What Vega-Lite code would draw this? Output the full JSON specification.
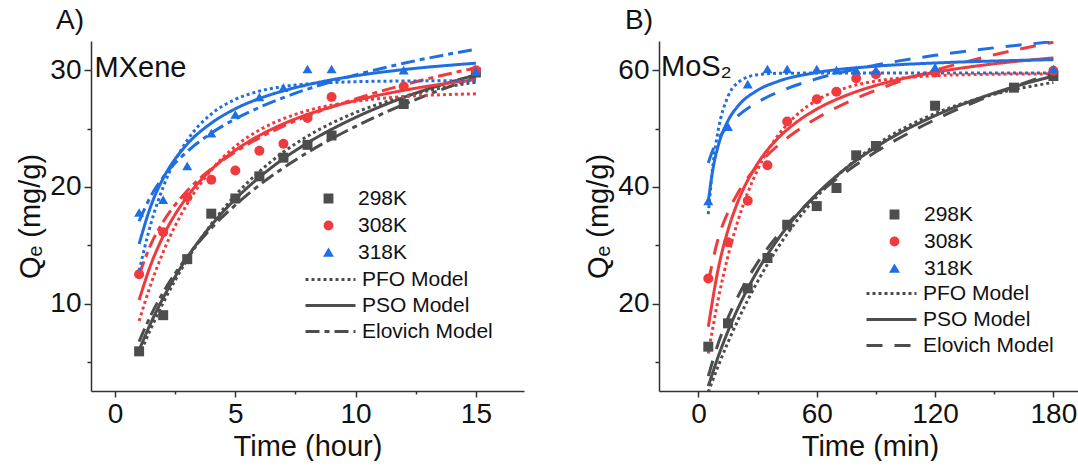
{
  "$schema": "https://vega.github.io/schema/vega-lite/v6.json",
  "background": "white",
  "padding": {"left": 16, "top": 7, "right": 0, "bottom": 0},
  "config": {
    "font": "Liberation Sans",
    "view": {"stroke": null},
    "axis": {
      "labelFontSize": 28, "titleFontSize": 29, "titleFontWeight": "normal",
      "labelColor": "#111", "titleColor": "#111",
      "domainColor": "#333", "tickColor": "#333", "domainWidth": 1.5, "tickWidth": 1.5,
      "grid": false, "labelPadding": 3, "titlePadding": 4, "labelOverlap": false
    },
    "legend": {"labelFontSize": 21, "labelColor": "#111", "labelFont": "Liberation Sans"},
    "title": {"fontSize": 28, "fontWeight": "normal", "anchor": "start", "frame": "group", "color": "#111"}
  },
  "datasets": {
    "mxPts": [
      {"T": "298K", "t": 1, "q": 5.9}, {"T": "298K", "t": 2, "q": 9.0}, {"T": "298K", "t": 3, "q": 13.8},
      {"T": "298K", "t": 4, "q": 17.7}, {"T": "298K", "t": 5, "q": 19.0}, {"T": "298K", "t": 6, "q": 20.9},
      {"T": "298K", "t": 7, "q": 22.5}, {"T": "298K", "t": 8, "q": 23.6}, {"T": "298K", "t": 9, "q": 24.4},
      {"T": "298K", "t": 12, "q": 27.1}, {"T": "298K", "t": 15, "q": 29.8},
      {"T": "308K", "t": 1, "q": 12.5}, {"T": "308K", "t": 2, "q": 16.1}, {"T": "308K", "t": 3, "q": 19.1},
      {"T": "308K", "t": 4, "q": 20.6}, {"T": "308K", "t": 5, "q": 21.4}, {"T": "308K", "t": 6, "q": 23.1},
      {"T": "308K", "t": 7, "q": 23.7}, {"T": "308K", "t": 8, "q": 25.9}, {"T": "308K", "t": 9, "q": 27.7},
      {"T": "308K", "t": 12, "q": 28.6}, {"T": "308K", "t": 15, "q": 30.0},
      {"T": "318K", "t": 1, "q": 17.8}, {"T": "318K", "t": 2, "q": 18.9}, {"T": "318K", "t": 3, "q": 21.8},
      {"T": "318K", "t": 4, "q": 24.6}, {"T": "318K", "t": 5, "q": 26.2}, {"T": "318K", "t": 6, "q": 27.7},
      {"T": "318K", "t": 7, "q": 28.5}, {"T": "318K", "t": 8, "q": 30.1}, {"T": "318K", "t": 9, "q": 30.1},
      {"T": "318K", "t": 12, "q": 30.0}, {"T": "318K", "t": 15, "q": 29.9}
    ],
    "mxFit": [
      {"T": "298K", "t": 1, "PFO Model": 5.53, "PSO Model": 6.0, "Elovich Model": 6.74},
      {"T": "298K", "t": 1.5, "PFO Model": 7.9, "PSO Model": 8.39, "Elovich Model": 9.04},
      {"T": "298K", "t": 2, "PFO Model": 10.06, "PSO Model": 10.47, "Elovich Model": 10.95},
      {"T": "298K", "t": 3, "PFO Model": 13.76, "PSO Model": 13.94, "Elovich Model": 14.02},
      {"T": "298K", "t": 4, "PFO Model": 16.8, "PSO Model": 16.7, "Elovich Model": 16.45},
      {"T": "298K", "t": 5, "PFO Model": 19.28, "PSO Model": 18.95, "Elovich Model": 18.44},
      {"T": "298K", "t": 6, "PFO Model": 21.31, "PSO Model": 20.82, "Elovich Model": 20.15},
      {"T": "298K", "t": 7, "PFO Model": 22.98, "PSO Model": 22.41, "Elovich Model": 21.63},
      {"T": "298K", "t": 8, "PFO Model": 24.34, "PSO Model": 23.76, "Elovich Model": 22.94},
      {"T": "298K", "t": 10, "PFO Model": 26.37, "PSO Model": 25.95, "Elovich Model": 25.18},
      {"T": "298K", "t": 12, "PFO Model": 27.73, "PSO Model": 27.66, "Elovich Model": 27.06},
      {"T": "298K", "t": 15, "PFO Model": 28.98, "PSO Model": 29.6, "Elovich Model": 29.39},
      {"T": "308K", "t": 1, "PFO Model": 8.5, "PSO Model": 10.3, "Elovich Model": 12.46},
      {"T": "308K", "t": 1.5, "PFO Model": 11.72, "PSO Model": 13.4, "Elovich Model": 15.12},
      {"T": "308K", "t": 2, "PFO Model": 14.41, "PSO Model": 15.77, "Elovich Model": 17.0},
      {"T": "308K", "t": 3, "PFO Model": 18.54, "PSO Model": 19.16, "Elovich Model": 19.66},
      {"T": "308K", "t": 4, "PFO Model": 21.44, "PSO Model": 21.47, "Elovich Model": 21.54},
      {"T": "308K", "t": 5, "PFO Model": 23.47, "PSO Model": 23.14, "Elovich Model": 23.0},
      {"T": "308K", "t": 6, "PFO Model": 24.87, "PSO Model": 24.4, "Elovich Model": 24.2},
      {"T": "308K", "t": 7, "PFO Model": 25.84, "PSO Model": 25.4, "Elovich Model": 25.21},
      {"T": "308K", "t": 8, "PFO Model": 26.53, "PSO Model": 26.2, "Elovich Model": 26.08},
      {"T": "308K", "t": 10, "PFO Model": 27.33, "PSO Model": 27.4, "Elovich Model": 27.54},
      {"T": "308K", "t": 12, "PFO Model": 27.73, "PSO Model": 28.27, "Elovich Model": 28.74},
      {"T": "308K", "t": 15, "PFO Model": 27.97, "PSO Model": 29.2, "Elovich Model": 30.2},
      {"T": "318K", "t": 1, "PFO Model": 12.81, "PSO Model": 15.1, "Elovich Model": 17.05},
      {"T": "318K", "t": 1.5, "PFO Model": 16.91, "PSO Model": 18.43, "Elovich Model": 19.26},
      {"T": "318K", "t": 2, "PFO Model": 19.98, "PSO Model": 20.72, "Elovich Model": 20.83},
      {"T": "318K", "t": 3, "PFO Model": 23.99, "PSO Model": 23.66, "Elovich Model": 23.03},
      {"T": "318K", "t": 4, "PFO Model": 26.24, "PSO Model": 25.46, "Elovich Model": 24.6},
      {"T": "318K", "t": 5, "PFO Model": 27.5, "PSO Model": 26.69, "Elovich Model": 25.82},
      {"T": "318K", "t": 6, "PFO Model": 28.2, "PSO Model": 27.57, "Elovich Model": 26.81},
      {"T": "318K", "t": 7, "PFO Model": 28.6, "PSO Model": 28.23, "Elovich Model": 27.65},
      {"T": "318K", "t": 8, "PFO Model": 28.82, "PSO Model": 28.75, "Elovich Model": 28.38},
      {"T": "318K", "t": 10, "PFO Model": 29.01, "PSO Model": 29.52, "Elovich Model": 29.59},
      {"T": "318K", "t": 12, "PFO Model": 29.07, "PSO Model": 30.05, "Elovich Model": 30.59},
      {"T": "318K", "t": 15, "PFO Model": 29.1, "PSO Model": 30.6, "Elovich Model": 31.8}
    ],
    "moPts": [
      {"T": "298K", "t": 5, "q": 12.6}, {"T": "298K", "t": 15, "q": 16.6}, {"T": "298K", "t": 25, "q": 22.6},
      {"T": "298K", "t": 35, "q": 27.8}, {"T": "298K", "t": 45, "q": 33.5}, {"T": "298K", "t": 60, "q": 36.7},
      {"T": "298K", "t": 70, "q": 39.8}, {"T": "298K", "t": 80, "q": 45.4}, {"T": "298K", "t": 90, "q": 47.0},
      {"T": "298K", "t": 120, "q": 53.9}, {"T": "298K", "t": 160, "q": 57.0}, {"T": "298K", "t": 180, "q": 59.0},
      {"T": "308K", "t": 5, "q": 24.3}, {"T": "308K", "t": 15, "q": 30.5}, {"T": "308K", "t": 25, "q": 37.6},
      {"T": "308K", "t": 35, "q": 43.7}, {"T": "308K", "t": 45, "q": 51.2}, {"T": "308K", "t": 60, "q": 55.0},
      {"T": "308K", "t": 70, "q": 56.3}, {"T": "308K", "t": 80, "q": 58.6}, {"T": "308K", "t": 90, "q": 59.3},
      {"T": "308K", "t": 120, "q": 59.6}, {"T": "308K", "t": 180, "q": 59.9},
      {"T": "318K", "t": 5, "q": 37.6}, {"T": "318K", "t": 15, "q": 50.3}, {"T": "318K", "t": 25, "q": 57.6},
      {"T": "318K", "t": 35, "q": 60.2}, {"T": "318K", "t": 45, "q": 60.2}, {"T": "318K", "t": 60, "q": 60.2},
      {"T": "318K", "t": 70, "q": 60.0}, {"T": "318K", "t": 80, "q": 60.0}, {"T": "318K", "t": 90, "q": 60.0},
      {"T": "318K", "t": 120, "q": 60.5}, {"T": "318K", "t": 180, "q": 60.2}
    ],
    "moFit": [
      {"T": "298K", "t": 5, "PFO Model": 4.82, "PSO Model": 5.83, "Elovich Model": 7.55},
      {"T": "298K", "t": 10, "PFO Model": 9.26, "PSO Model": 10.87, "Elovich Model": 13.12},
      {"T": "298K", "t": 15, "PFO Model": 13.35, "PSO Model": 15.27, "Elovich Model": 17.53},
      {"T": "298K", "t": 20, "PFO Model": 17.11, "PSO Model": 19.14, "Elovich Model": 21.18},
      {"T": "298K", "t": 30, "PFO Model": 23.78, "PSO Model": 25.63, "Elovich Model": 27.01},
      {"T": "298K", "t": 40, "PFO Model": 29.43, "PSO Model": 30.87, "Elovich Model": 31.59},
      {"T": "298K", "t": 50, "PFO Model": 34.23, "PSO Model": 35.19, "Elovich Model": 35.35},
      {"T": "298K", "t": 60, "PFO Model": 38.3, "PSO Model": 38.8, "Elovich Model": 38.55},
      {"T": "298K", "t": 75, "PFO Model": 43.27, "PSO Model": 43.24, "Elovich Model": 42.6},
      {"T": "298K", "t": 90, "PFO Model": 47.16, "PSO Model": 46.81, "Elovich Model": 46.0},
      {"T": "298K", "t": 105, "PFO Model": 50.2, "PSO Model": 49.75, "Elovich Model": 48.93},
      {"T": "298K", "t": 120, "PFO Model": 52.57, "PSO Model": 52.2, "Elovich Model": 51.51},
      {"T": "298K", "t": 150, "PFO Model": 55.88, "PSO Model": 56.08, "Elovich Model": 55.88},
      {"T": "298K", "t": 180, "PFO Model": 57.9, "PSO Model": 59.0, "Elovich Model": 59.51},
      {"T": "308K", "t": 5, "PFO Model": 11.43, "PSO Model": 16.0, "Elovich Model": 23.68},
      {"T": "308K", "t": 10, "PFO Model": 20.66, "PSO Model": 25.88, "Elovich Model": 31.12},
      {"T": "308K", "t": 15, "PFO Model": 28.12, "PSO Model": 32.59, "Elovich Model": 35.66},
      {"T": "308K", "t": 20, "PFO Model": 34.14, "PSO Model": 37.44, "Elovich Model": 38.95},
      {"T": "308K", "t": 30, "PFO Model": 42.93, "PSO Model": 43.99, "Elovich Model": 43.64},
      {"T": "308K", "t": 40, "PFO Model": 48.65, "PSO Model": 48.21, "Elovich Model": 47.0},
      {"T": "308K", "t": 50, "PFO Model": 52.39, "PSO Model": 51.15, "Elovich Model": 49.62},
      {"T": "308K", "t": 60, "PFO Model": 54.83, "PSO Model": 53.32, "Elovich Model": 51.77},
      {"T": "308K", "t": 75, "PFO Model": 56.99, "PSO Model": 55.68, "Elovich Model": 54.41},
      {"T": "308K", "t": 90, "PFO Model": 58.13, "PSO Model": 57.38, "Elovich Model": 56.57},
      {"T": "308K", "t": 105, "PFO Model": 58.73, "PSO Model": 58.65, "Elovich Model": 58.4},
      {"T": "308K", "t": 120, "PFO Model": 59.05, "PSO Model": 59.64, "Elovich Model": 59.98},
      {"T": "308K", "t": 150, "PFO Model": 59.3, "PSO Model": 61.09, "Elovich Model": 62.63},
      {"T": "308K", "t": 180, "PFO Model": 59.37, "PSO Model": 62.1, "Elovich Model": 64.8},
      {"T": "318K", "t": 5, "PFO Model": 35.31, "PSO Model": 37.5, "Elovich Model": 44.1},
      {"T": "318K", "t": 7.5, "PFO Model": 44.08, "PSO Model": 43.34, "Elovich Model": 46.46},
      {"T": "318K", "t": 10, "PFO Model": 49.66, "PSO Model": 47.01, "Elovich Model": 48.13},
      {"T": "318K", "t": 15, "PFO Model": 55.5, "PSO Model": 51.34, "Elovich Model": 50.48},
      {"T": "318K", "t": 20, "PFO Model": 57.87, "PSO Model": 53.83, "Elovich Model": 52.15},
      {"T": "318K", "t": 30, "PFO Model": 59.23, "PSO Model": 56.56, "Elovich Model": 54.5},
      {"T": "318K", "t": 40, "PFO Model": 59.46, "PSO Model": 58.04, "Elovich Model": 56.17},
      {"T": "318K", "t": 60, "PFO Model": 59.5, "PSO Model": 59.59, "Elovich Model": 58.52},
      {"T": "318K", "t": 90, "PFO Model": 59.5, "PSO Model": 60.68, "Elovich Model": 60.87},
      {"T": "318K", "t": 120, "PFO Model": 59.5, "PSO Model": 61.23, "Elovich Model": 62.54},
      {"T": "318K", "t": 150, "PFO Model": 59.5, "PSO Model": 61.57, "Elovich Model": 63.83},
      {"T": "318K", "t": 180, "PFO Model": 59.5, "PSO Model": 61.8, "Elovich Model": 64.89}
    ]
  },
  "spacing": 135,
  "bounds": "flush",
  "resolve": {
    "scale": {"color": "independent", "shape": "independent", "strokeDash": "independent", "x": "independent", "y": "independent"},
    "legend": {"color": "independent", "shape": "independent", "strokeDash": "independent"}
  },
  "hconcat": [
    {
      "width": 433,
      "height": 350,
      "title": {"text": "A)", "dx": -35, "offset": 6},
      "layer": [
        {
          "data": {"name": "mxFit"},
          "transform": [{"fold": ["PFO Model", "PSO Model", "Elovich Model"], "as": ["model", "q"]}],
          "mark": {"type": "line", "clip": true, "strokeWidth": 3, "interpolate": "monotone"},
          "encoding": {
            "x": {"field": "t", "type": "quantitative", "scale": {"domain": [-1, 17], "nice": false, "zero": false},
              "axis": {"title": "Time (hour)", "values": [0, 2.5, 5, 7.5, 10, 12.5, 15], "format": "d",
                "labelExpr": "datum.value % 5 === 0 ? datum.label : ''",
                "tickSize": {"condition": {"test": "datum.value % 5 === 0", "value": 6}, "value": 3}}},
            "y": {"field": "q", "type": "quantitative", "scale": {"domain": [2.5, 32.5], "nice": false, "zero": false},
              "axis": {"title": "Qₑ (mg/g)", "values": [5, 10, 15, 20, 25, 30], "format": "d",
                "labelExpr": "datum.value % 10 === 0 ? datum.label : ''",
                "tickSize": {"condition": {"test": "datum.value % 10 === 0", "value": 7}, "value": 4}}},
            "color": {"field": "T", "type": "nominal",
              "scale": {"domain": ["298K", "308K", "318K"], "range": ["#4d4d4d", "#ef3b3e", "#1f6fe3"]},
              "legend": {"orient": "none", "legendX": 227, "legendY": 147, "title": null, "padding": 0,
                "symbolSize": 70, "labelFontSize": 21, "rowPadding": 5, "labelOffset": 19}},
            "strokeDash": {"field": "model", "type": "nominal",
              "scale": {"domain": ["PFO Model", "PSO Model", "Elovich Model"], "range": [[3, 3], [1, 0], [14, 5, 5, 5]]},
              "legend": {"orient": "none", "legendX": 213, "legendY": 228, "title": null, "padding": 0,
                "symbolType": "stroke", "symbolSize": 2500, "symbolStrokeColor": "#4d4d4d", "symbolStrokeWidth": 3,
                "clipHeight": 21, "labelFontSize": 21, "rowPadding": 4, "labelOffset": 5}}
          }
        },
        {
          "data": {"name": "mxPts"},
          "mark": {"type": "point", "filled": true, "size": 100, "opacity": 1},
          "encoding": {
            "x": {"field": "t", "type": "quantitative"},
            "y": {"field": "q", "type": "quantitative"},
            "color": {"field": "T", "type": "nominal",
              "legend": {"orient": "none", "legendX": 227, "legendY": 147, "title": null, "padding": 0,
                "symbolSize": 70, "labelFontSize": 21, "rowPadding": 5, "labelOffset": 19}},
            "shape": {"field": "T", "type": "nominal",
              "scale": {"domain": ["298K", "308K", "318K"], "range": ["square", "circle", "triangle-up"]},
              "legend": {"orient": "none", "legendX": 227, "legendY": 147, "title": null, "padding": 0,
                "symbolSize": 70, "labelFontSize": 21, "rowPadding": 5, "labelOffset": 19}}
          }
        },
        {
          "data": {"values": [{}]},
          "mark": {"type": "text", "align": "left", "baseline": "alphabetic", "fontSize": 29, "color": "#111"},
          "encoding": {
            "x": {"datum": -0.85, "type": "quantitative"},
            "y": {"datum": 29.4, "type": "quantitative"},
            "text": {"value": "MXene"}
          }
        }
      ]
    },
    {
      "width": 422,
      "height": 350,
      "title": {"text": "B)", "dx": -34, "offset": 6},
      "layer": [
        {
          "data": {"name": "moFit"},
          "transform": [{"fold": ["PFO Model", "PSO Model", "Elovich Model"], "as": ["model", "q"]}],
          "mark": {"type": "line", "clip": true, "strokeWidth": 3, "interpolate": "monotone"},
          "encoding": {
            "x": {"field": "t", "type": "quantitative", "scale": {"domain": [-20, 194], "nice": false, "zero": false},
              "axis": {"title": "Time (min)", "values": [0, 30, 60, 90, 120, 150, 180], "format": "d",
                "labelExpr": "datum.value % 60 === 0 ? datum.label : ''",
                "tickSize": {"condition": {"test": "datum.value % 60 === 0", "value": 6}, "value": 3}}},
            "y": {"field": "q", "type": "quantitative", "scale": {"domain": [5, 65], "nice": false, "zero": false},
              "axis": {"title": "Qₑ (mg/g)", "values": [10, 20, 30, 40, 50, 60], "format": "d",
                "labelExpr": "datum.value % 20 === 0 ? datum.label : ''",
                "tickSize": {"condition": {"test": "datum.value % 20 === 0", "value": 7}, "value": 4}}},
            "color": {"field": "T", "type": "nominal",
              "scale": {"domain": ["298K", "308K", "318K"], "range": ["#4d4d4d", "#ef3b3e", "#1f6fe3"]},
              "legend": {"orient": "none", "legendX": 225, "legendY": 163, "title": null, "padding": 0,
                "symbolSize": 70, "labelFontSize": 21, "rowPadding": 5, "labelOffset": 19}},
            "strokeDash": {"field": "model", "type": "nominal",
              "scale": {"domain": ["PFO Model", "PSO Model", "Elovich Model"], "range": [[3, 3], [1, 0], [16, 12]]},
              "legend": {"orient": "none", "legendX": 206, "legendY": 242, "title": null, "padding": 0,
                "symbolType": "stroke", "symbolSize": 2500, "symbolStrokeColor": "#4d4d4d", "symbolStrokeWidth": 3,
                "clipHeight": 21, "labelFontSize": 21, "rowPadding": 4, "labelOffset": 5}}
          }
        },
        {
          "data": {"name": "moPts"},
          "mark": {"type": "point", "filled": true, "size": 100, "opacity": 1},
          "encoding": {
            "x": {"field": "t", "type": "quantitative"},
            "y": {"field": "q", "type": "quantitative"},
            "color": {"field": "T", "type": "nominal",
              "legend": {"orient": "none", "legendX": 225, "legendY": 163, "title": null, "padding": 0,
                "symbolSize": 70, "labelFontSize": 21, "rowPadding": 5, "labelOffset": 19}},
            "shape": {"field": "T", "type": "nominal",
              "scale": {"domain": ["298K", "308K", "318K"], "range": ["square", "circle", "triangle-up"]},
              "legend": {"orient": "none", "legendX": 225, "legendY": 163, "title": null, "padding": 0,
                "symbolSize": 70, "labelFontSize": 21, "rowPadding": 5, "labelOffset": 19}}
          }
        },
        {
          "data": {"values": [{}]},
          "mark": {"type": "text", "align": "left", "baseline": "alphabetic", "fontSize": 29, "color": "#111"},
          "encoding": {
            "x": {"datum": -19, "type": "quantitative"},
            "y": {"datum": 59.0, "type": "quantitative"},
            "text": {"value": "MoS₂"}
          }
        }
      ]
    }
  ]
}
